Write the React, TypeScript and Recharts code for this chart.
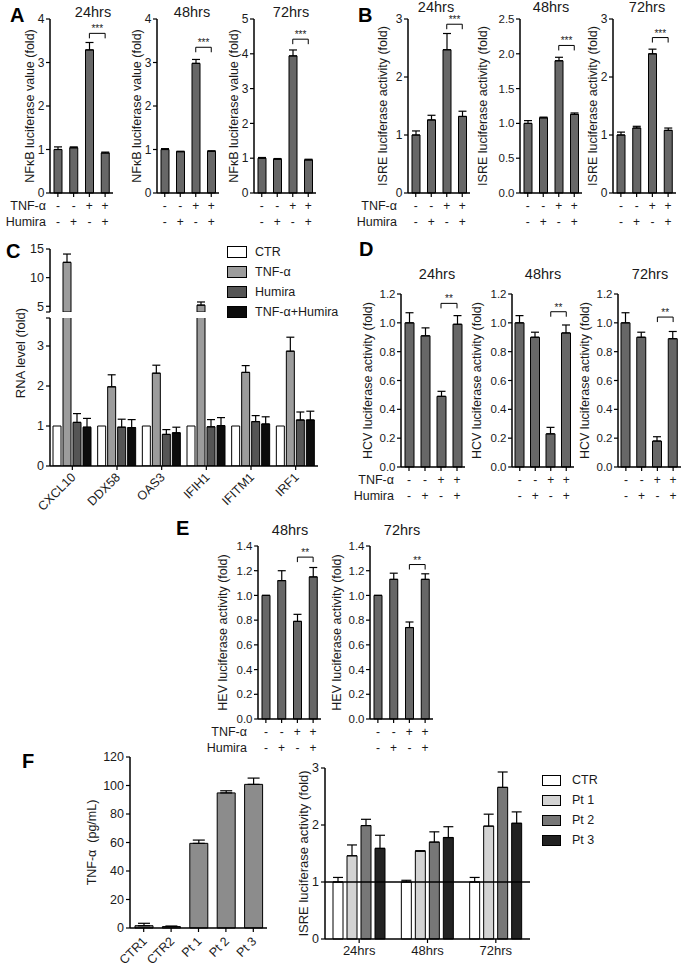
import React from "react";
import { BarChart, Bar, XAxis, YAxis, ErrorBar, ReferenceLine } from "recharts";

const FONT = '"Liberation Sans", Arial, Helvetica, sans-serif';
const INK = "#1a1a1a";
const BAR_GRAY = "#676767";

// treatment conditions used in A, B, D, E
const TREATMENTS = ["ctl", "humira", "tnf", "tnfHumira"];
const TNF_SIGNS = ["-", "-", "+", "+"];
const HUMIRA_SIGNS = ["-", "+", "-", "+"];
const TIMEPOINTS = ["24hrs", "48hrs", "72hrs"];

// A: NFkB luciferase value (fold)
const NFKB_24 = [1.0, 1.04, 3.29, 0.92];
const NFKB_24_ERR = [0.06, 0.02, 0.17, 0.02];
const NFKB_48 = [1.0, 0.95, 2.98, 0.96];
const NFKB_48_ERR = [0.02, 0.01, 0.09, 0.01];
const NFKB_72 = [1.0, 0.97, 3.94, 0.95];
const NFKB_72_ERR = [0.02, 0.02, 0.17, 0.02];
const NFKB_SIG = [3.67, 3.35, 4.42];

// B: ISRE luciferase activity (fold)
const ISRE_24 = [1.0, 1.26, 2.47, 1.32];
const ISRE_24_ERR = [0.07, 0.08, 0.28, 0.09];
const ISRE_48 = [1.0, 1.08, 1.9, 1.13];
const ISRE_48_ERR = [0.04, 0.01, 0.05, 0.02];
const ISRE_72 = [1.0, 1.12, 2.4, 1.08];
const ISRE_72_ERR = [0.05, 0.03, 0.08, 0.04];
const ISRE_SIG = [2.91, 2.12, 2.68];

// D: HCV luciferase activity (fold)
const HCV_24 = [1.0, 0.91, 0.49, 0.99];
const HCV_24_ERR = [0.07, 0.055, 0.035, 0.06];
const HCV_48 = [1.0, 0.9, 0.23, 0.93];
const HCV_48_ERR = [0.05, 0.035, 0.045, 0.055];
const HCV_72 = [1.0, 0.9, 0.18, 0.89];
const HCV_72_ERR = [0.07, 0.035, 0.03, 0.05];
const HCV_SIG = [1.135, 1.077, 1.04];

// E: HEV luciferase activity (fold)
const HEV_48 = [1.0, 1.12, 0.79, 1.15];
const HEV_48_ERR = [0, 0.08, 0.057, 0.076];
const HEV_72 = [1.0, 1.13, 0.74, 1.13];
const HEV_72_ERR = [0, 0.05, 0.045, 0.045];
const HEV_SIG = [1.31, 1.25];

// y ticks
const TICKS_0_4 = [0, 1, 2, 3, 4];
const TICKS_0_5 = [0, 1, 2, 3, 4, 5];
const TICKS_0_3 = [0, 1, 2, 3];
const TICKS_0_25 = [0, 0.5, 1, 1.5, 2, 2.5];
const TICKS_0_12 = [0, 0.2, 0.4, 0.6, 0.8, 1.0, 1.2];
const TICKS_0_14 = [0, 0.2, 0.4, 0.6, 0.8, 1.0, 1.2, 1.4];

// C: RNA level (fold), broken y axis
const GENES = ["CXCL10", "DDX58", "OAS3", "IFIH1", "IFITM1", "IRF1"];
const RNA_CTR = [1, 1, 1, 1, 1, 1];
const RNA_TNF = [12.67, 1.98, 2.32, 5.2, 2.34, 2.87];
const RNA_TNF_ERR = [1.45, 0.3, 0.2, 0.55, 0.17, 0.35];
const RNA_HUMIRA = [1.09, 0.97, 0.79, 0.98, 1.11, 1.15];
const RNA_HUMIRA_ERR = [0.22, 0.2, 0.12, 0.18, 0.15, 0.2];
const RNA_BOTH = [0.97, 0.96, 0.83, 1.01, 1.05, 1.15];
const RNA_BOTH_ERR = [0.22, 0.2, 0.14, 0.2, 0.18, 0.22];
const RNA_LOW_TICKS = [0, 1, 2, 3, 3.7];
const RNA_HIGH_TICKS = [4, 5, 10, 15];

// F left: TNF-a (pg/mL)
const DONORS = ["CTR1", "CTR2", "Pt 1", "Pt 2", "Pt 3"];
const TNF_PGML = [1.6, 1.0, 59.4, 94.8, 100.8];
const TNF_PGML_ERR = [1.7, 0.4, 2.3, 1.5, 4.4];
const TNF_PGML_TICKS = [0, 20, 40, 60, 80, 100, 120];

// F right: ISRE activity with patient sera
const PT_CTR = [1.0, 1.0, 1.0];
const PT_CTR_ERR = [0.08, 0.03, 0.08];
const PT_1 = [1.46, 1.54, 1.98];
const PT_1_ERR = [0.19, 0.01, 0.21];
const PT_2 = [1.99, 1.7, 2.66];
const PT_2_ERR = [0.11, 0.18, 0.27];
const PT_3 = [1.59, 1.78, 2.03];
const PT_3_ERR = [0.23, 0.19, 0.2];

const RNA_SERIES = [
  { key: "ctr", name: "CTR", fill: "#ffffff", values: RNA_CTR, errors: null },
  { key: "tnf", name: "TNF-\u03b1", fill: "#9c9c9c", values: RNA_TNF, errors: RNA_TNF_ERR },
  { key: "hum", name: "Humira", fill: "#555555", values: RNA_HUMIRA, errors: RNA_HUMIRA_ERR },
  { key: "both", name: "TNF-\u03b1+Humira", fill: "#0c0c0c", values: RNA_BOTH, errors: RNA_BOTH_ERR },
];

const PT_SERIES = [
  { key: "ctr", name: "CTR", fill: "#ffffff", values: PT_CTR, errors: PT_CTR_ERR },
  { key: "pt1", name: "Pt 1", fill: "#d3d3d3", values: PT_1, errors: PT_1_ERR },
  { key: "pt2", name: "Pt 2", fill: "#777777", values: PT_2, errors: PT_2_ERR },
  { key: "pt3", name: "Pt 3", fill: "#222222", values: PT_3, errors: PT_3_ERR },
];

const AXIS_LINE = { stroke: "#000", strokeWidth: 1.5 };
const TICK_LINE = { stroke: "#000", strokeWidth: 1.2 };

function SignTick(props: any) {
  const { x, y, payload } = props;
  const i = TREATMENTS.indexOf(payload.value);
  return (
    <g fill={INK} fontSize={12}>
      <text x={x} y={y + 11} textAnchor="middle">
        {TNF_SIGNS[i]}
      </text>
      <text x={x} y={y + 26.5} textAnchor="middle">
        {HUMIRA_SIGNS[i]}
      </text>
    </g>
  );
}

function SlantTick(props: any) {
  const { x, y, payload, dy } = props;
  const px = x + 4;
  const py = y + dy;
  return (
    <text x={px} y={py} transform={`rotate(-45 ${px} ${py})`} textAnchor="end" fontSize={12.5} fill={INK}>
      {payload.value}
    </text>
  );
}

type TreatProps = {
  axisX: number;
  labelX: number;
  plotTop: number;
  plotH: number;
  plotW: number;
  max: number;
  ticks: number[];
  decimals: number;
  values: number[];
  errors: number[];
  sigY: number;
  stars: string;
  yLabel: string;
  barSize?: number;
};

function TreatChart(p: TreatProps) {
  const left = p.labelX - 8;
  const yw = p.axisX - left;
  const padTop = 8;
  const axisH = 38;
  const data = TREATMENTS.map((key, i) => ({ key, value: p.values[i], err: [0, p.errors[i]] }));
  const drop = (p.max * 5) / p.plotH;
  return (
    <div style={{ position: "absolute", left, top: p.plotTop - padTop }}>
      <BarChart
        width={yw + p.plotW + 4}
        height={padTop + p.plotH + axisH}
        data={data}
        margin={{ top: padTop, right: 4, bottom: 0, left: 0 }}
      >
        <XAxis
          dataKey="key"
          height={axisH}
          interval={0}
          tickSize={4}
          tickMargin={2}
          axisLine={AXIS_LINE}
          tickLine={TICK_LINE}
          tick={(t: any) => <SignTick {...t} />}
        />
        <YAxis
          width={yw}
          type="number"
          domain={[0, p.max]}
          ticks={p.ticks}
          interval={0}
          tickSize={4}
          tickMargin={1.5}
          tickFormatter={(v: number) => Number(v).toFixed(p.decimals)}
          axisLine={AXIS_LINE}
          tickLine={TICK_LINE}
          tick={{ fontSize: p.decimals ? 11.5 : 12, fill: INK }}
          label={{
            value: p.yLabel,
            angle: -90,
            position: "insideLeft",
            offset: 8,
            fontSize: 12.5,
            fill: INK,
            style: { textAnchor: "middle" },
          }}
        />
        <Bar dataKey="value" barSize={p.barSize ?? 8} fill={BAR_GRAY} stroke="#000" strokeWidth={1} isAnimationActive={false}>
          <ErrorBar dataKey="err" width={4} stroke="#000" strokeWidth={1.2} direction="y" />
        </Bar>
        <ReferenceLine
          segment={[
            { x: "tnf", y: p.sigY },
            { x: "tnfHumira", y: p.sigY },
          ]}
          stroke="#000"
          strokeWidth={1}
          label={{ value: p.stars, position: "top", offset: 1, fontSize: 10, fill: INK }}
        />
        <ReferenceLine
          segment={[
            { x: "tnf", y: p.sigY },
            { x: "tnf", y: p.sigY - drop },
          ]}
          stroke="#000"
          strokeWidth={1}
        />
        <ReferenceLine
          segment={[
            { x: "tnfHumira", y: p.sigY },
            { x: "tnfHumira", y: p.sigY - drop },
          ]}
          stroke="#000"
          strokeWidth={1}
        />
      </BarChart>
    </div>
  );
}

function SwatchLegend({ left, top, items, boxW, boxH, gap }: any) {
  return (
    <div style={{ position: "absolute", left, top, fontSize: 12.5, color: INK, lineHeight: "20px" }}>
      {items.map((it: any) => (
        <div key={it.key} style={{ display: "flex", alignItems: "center", height: 20 }}>
          <span
            style={{
              display: "inline-block",
              width: boxW,
              height: boxH,
              background: it.fill,
              border: "1px solid #000",
              marginRight: gap,
            }}
          />
          {it.name}
        </div>
      ))}
    </div>
  );
}

const RNA_LOW_MAX = 3.7;
const RNA_HIGH_MIN = 4;

function RnaCharts() {
  const rows = GENES.map((gene, i) => {
    const r: any = { gene };
    RNA_SERIES.forEach((s) => {
      r[s.key] = s.values[i];
      r[s.key + "Err"] = s.errors ? [0, s.errors[i]] : null;
    });
    return r;
  });
  const highRows = rows.map((r) => {
    const h: any = { gene: r.gene };
    RNA_SERIES.forEach((s) => {
      const over = r[s.key] > RNA_HIGH_MIN;
      h[s.key] = over ? r[s.key] : null;
      h[s.key + "Err"] = over ? r[s.key + "Err"] : null;
    });
    return h;
  });
  const yw = 50;
  const width = yw + 268 + 6;
  const bars = RNA_SERIES.map((s) => (
    <Bar key={s.key} dataKey={s.key} fill={s.fill} stroke="#000" strokeWidth={1} barSize={8} isAnimationActive={false}>
      {s.errors ? <ErrorBar dataKey={s.key + "Err"} width={4} stroke="#000" strokeWidth={1.2} direction="y" /> : null}
    </Bar>
  ));
  const yTick = { fontSize: 12.5, fill: INK };
  return (
    <>
      <div style={{ position: "absolute", left: 0, top: 241 }}>
        <BarChart width={width} height={77} data={highRows} barGap={2} margin={{ top: 8, right: 6, bottom: 6, left: 0 }}>
          <XAxis dataKey="gene" hide height={0} />
          <YAxis
            width={yw}
            type="number"
            domain={[RNA_HIGH_MIN, 15]}
            allowDataOverflow
            ticks={RNA_HIGH_TICKS}
            interval={0}
            tickSize={4}
            tickMargin={2}
            tickFormatter={(v: number) => (v === RNA_HIGH_MIN ? "" : String(v))}
            axisLine={AXIS_LINE}
            tickLine={TICK_LINE}
            tick={yTick}
          />
          {bars}
        </BarChart>
      </div>
      <div style={{ position: "absolute", left: 0, top: 314 }}>
        <BarChart width={width} height={208} data={rows} barGap={2} margin={{ top: 4, right: 6, bottom: 0, left: 0 }}>
          <XAxis
            dataKey="gene"
            height={56}
            interval={0}
            tickSize={4}
            tickMargin={2}
            axisLine={AXIS_LINE}
            tickLine={TICK_LINE}
            tick={(t: any) => <SlantTick {...t} dy={6} />}
          />
          <YAxis
            width={yw}
            type="number"
            domain={[0, RNA_LOW_MAX]}
            allowDataOverflow
            ticks={RNA_LOW_TICKS}
            interval={0}
            tickSize={4}
            tickMargin={2}
            tickFormatter={(v: number) => (v === RNA_LOW_MAX ? "" : String(v))}
            axisLine={AXIS_LINE}
            tickLine={TICK_LINE}
            tick={yTick}
          />
          {bars}
        </BarChart>
      </div>
      <SwatchLegend left={227} top={242} items={RNA_SERIES} boxW={18} boxH={10} gap={8} />
    </>
  );
}

function TnfChart() {
  const data = DONORS.map((donor, i) => ({ donor, value: TNF_PGML[i], err: [0, TNF_PGML_ERR[i]] }));
  const left = 84;
  const yw = 130 - left;
  return (
    <div style={{ position: "absolute", left, top: 749 }}>
      <BarChart width={yw + 137 + 4} height={8 + 171 + 48} data={data} margin={{ top: 8, right: 4, bottom: 0, left: 0 }}>
        <XAxis
          dataKey="donor"
          height={48}
          interval={0}
          tickSize={4}
          tickMargin={2}
          axisLine={AXIS_LINE}
          tickLine={TICK_LINE}
          tick={(t: any) => <SlantTick {...t} dy={8} />}
        />
        <YAxis
          width={yw}
          type="number"
          domain={[0, 120]}
          ticks={TNF_PGML_TICKS}
          interval={0}
          tickSize={4}
          tickMargin={2}
          axisLine={AXIS_LINE}
          tickLine={TICK_LINE}
          tick={{ fontSize: 12.5, fill: INK }}
          label={{
            value: "TNF-\u03b1\u00a0 (pg/mL)",
            angle: -90,
            position: "insideLeft",
            offset: 8,
            fontSize: 12.5,
            fill: INK,
            style: { textAnchor: "middle" },
          }}
        />
        <Bar dataKey="value" barSize={18} fill="#8c8c8c" stroke="#000" strokeWidth={1} isAnimationActive={false}>
          <ErrorBar dataKey="err" width={6} stroke="#000" strokeWidth={1.2} direction="y" />
        </Bar>
      </BarChart>
    </div>
  );
}

function PatientChart() {
  const data = TIMEPOINTS.map((time, i) => {
    const r: any = { time };
    PT_SERIES.forEach((s) => {
      r[s.key] = s.values[i];
      r[s.key + "Err"] = [0, s.errors[i]];
    });
    return r;
  });
  const left = 295;
  const yw = 325 - left;
  return (
    <>
      <div style={{ position: "absolute", left, top: 760 }}>
        <BarChart width={yw + 205 + 4} height={8 + 171 + 26} data={data} barGap={4} margin={{ top: 8, right: 4, bottom: 0, left: 0 }}>
          <XAxis
            dataKey="time"
            height={26}
            interval={0}
            tickSize={4}
            tickMargin={3}
            axisLine={AXIS_LINE}
            tickLine={TICK_LINE}
            tick={{ fontSize: 13, fill: INK }}
          />
          <YAxis
            width={yw}
            type="number"
            domain={[0, 3]}
            ticks={TICKS_0_3}
            interval={0}
            tickSize={4}
            tickMargin={2}
            axisLine={AXIS_LINE}
            tickLine={TICK_LINE}
            tick={{ fontSize: 12.5, fill: INK }}
            label={{
              value: "ISRE luciferase activity (fold)",
              angle: -90,
              position: "insideLeft",
              offset: 8,
              fontSize: 13,
              fill: INK,
              style: { textAnchor: "middle" },
            }}
          />
          {PT_SERIES.map((s) => (
            <Bar key={s.key} dataKey={s.key} fill={s.fill} stroke="#000" strokeWidth={1} barSize={10} isAnimationActive={false}>
              <ErrorBar dataKey={s.key + "Err"} width={5} stroke="#000" strokeWidth={1.2} direction="y" />
            </Bar>
          ))}
          <ReferenceLine y={1} stroke="#000" strokeWidth={1.5} />
        </BarChart>
      </div>
      <SwatchLegend left={542} top={770} items={PT_SERIES} boxW={17} boxH={9} gap={11} />
    </>
  );
}

function Annotations() {
  const title = { fontSize: 14.5, fill: INK, textAnchor: "middle" as const };
  const letter = { fontSize: 20, fontWeight: 700, fill: "#000" };
  const rowLab = { fontSize: 12.5, fill: INK, textAnchor: "end" as const };
  return (
    <svg width={685} height={969} style={{ position: "absolute", left: 0, top: 0, pointerEvents: "none" }}>
      <text x={10} y={22} {...letter}>A</text>
      <text x={358} y={22} {...letter}>B</text>
      <text x={6} y={258} {...letter}>C</text>
      <text x={359} y={256} {...letter}>D</text>
      <text x={176} y={535} {...letter}>E</text>
      <text x={22} y={768} {...letter}>F</text>

      <text x={93} y={17} {...title}>{TIMEPOINTS[0]}</text>
      <text x={192} y={17} {...title}>{TIMEPOINTS[1]}</text>
      <text x={291} y={17} {...title}>{TIMEPOINTS[2]}</text>
      <text x={436} y={12} {...title}>{TIMEPOINTS[0]}</text>
      <text x={551} y={12} {...title}>{TIMEPOINTS[1]}</text>
      <text x={647} y={12} {...title}>{TIMEPOINTS[2]}</text>
      <text x={437} y={279} {...title}>{TIMEPOINTS[0]}</text>
      <text x={543} y={279} {...title}>{TIMEPOINTS[1]}</text>
      <text x={650} y={279} {...title}>{TIMEPOINTS[2]}</text>
      <text x={290} y={535} {...title}>{TIMEPOINTS[1]}</text>
      <text x={402} y={535} {...title}>{TIMEPOINTS[2]}</text>

      <text x={46} y={210} {...rowLab}>TNF-&#945;</text>
      <text x={46} y={225.5} {...rowLab}>Humira</text>
      <text x={397} y={210} {...rowLab}>TNF-&#945;</text>
      <text x={397} y={225.5} {...rowLab}>Humira</text>
      <text x={394} y={484} {...rowLab}>TNF-&#945;</text>
      <text x={394} y={499.5} {...rowLab}>Humira</text>
      <text x={247} y={736} {...rowLab}>TNF-&#945;</text>
      <text x={247} y={751.5} {...rowLab}>Humira</text>

      <text x={20} y={353} fontSize={13} fill={INK} textAnchor="middle" dominantBaseline="central" transform="rotate(-90 20 353)">
        RNA level (fold)
      </text>
    </svg>
  );
}

export default function App() {
  const A = { plotTop: 19, plotH: 174, yLabel: "NF\u03baB luciferase value (fold)", decimals: 0, stars: "***" };
  const B = { plotTop: 19, plotH: 174, yLabel: "ISRE luciferase activity (fold)", stars: "***" };
  const D = { plotTop: 294, plotH: 173, yLabel: "HCV luciferase activity (fold)", decimals: 1, stars: "**", max: 1.2, ticks: TICKS_0_12, barSize: 9 };
  const E = { plotTop: 546, plotH: 173, yLabel: "HEV luciferase activity (fold)", decimals: 1, stars: "**", max: 1.4, ticks: TICKS_0_14 };
  return (
    <div
      style={{
        position: "absolute",
        left: 0,
        top: 0,
        width: 685,
        height: 969,
        background: "#fff",
        fontFamily: FONT,
        color: INK,
        overflow: "hidden",
      }}
    >
      <TreatChart {...A} axisX={50} labelX={30} plotW={63} max={4} ticks={TICKS_0_4} values={NFKB_24} errors={NFKB_24_ERR} sigY={NFKB_SIG[0]} />
      <TreatChart {...A} axisX={157} labelX={137} plotW={62} max={4} ticks={TICKS_0_4} values={NFKB_48} errors={NFKB_48_ERR} sigY={NFKB_SIG[1]} />
      <TreatChart {...A} axisX={254} labelX={234} plotW={62} max={5} ticks={TICKS_0_5} values={NFKB_72} errors={NFKB_72_ERR} sigY={NFKB_SIG[2]} />

      <TreatChart {...B} axisX={408} labelX={383} plotW={62} max={3} ticks={TICKS_0_3} decimals={0} values={ISRE_24} errors={ISRE_24_ERR} sigY={ISRE_SIG[0]} />
      <TreatChart {...B} axisX={520} labelX={483} plotW={62} max={2.5} ticks={TICKS_0_25} decimals={1} values={ISRE_48} errors={ISRE_48_ERR} sigY={ISRE_SIG[1]} />
      <TreatChart {...B} axisX={613} labelX={593} plotW={63} max={3} ticks={TICKS_0_3} decimals={0} values={ISRE_72} errors={ISRE_72_ERR} sigY={ISRE_SIG[2]} />

      <RnaCharts />

      <TreatChart {...D} axisX={401} labelX={368} plotW={64} values={HCV_24} errors={HCV_24_ERR} sigY={HCV_SIG[0]} />
      <TreatChart {...D} axisX={512} labelX={477} plotW={62} values={HCV_48} errors={HCV_48_ERR} sigY={HCV_SIG[1]} />
      <TreatChart {...D} axisX={618} labelX={585} plotW={63} values={HCV_72} errors={HCV_72_ERR} sigY={HCV_SIG[2]} />

      <TreatChart {...E} axisX={258} labelX={223} plotW={63} values={HEV_48} errors={HEV_48_ERR} sigY={HEV_SIG[0]} />
      <TreatChart {...E} axisX={370} labelX={337} plotW={63} values={HEV_72} errors={HEV_72_ERR} sigY={HEV_SIG[1]} />

      <TnfChart />
      <PatientChart />

      <Annotations />
    </div>
  );
}
